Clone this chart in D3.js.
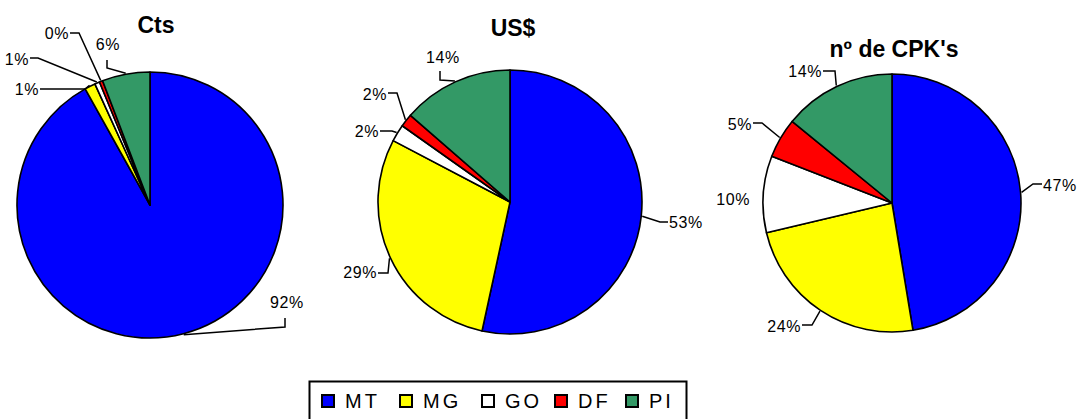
<!DOCTYPE html>
<html>
<head>
<meta charset="utf-8">
<script src="https://cdn.jsdelivr.net/npm/d3@7"></script>
<style>
  html, body { margin: 0; padding: 0; background: #fff; }
  svg { display: block; }
  text { font-family: "Liberation Sans", Arial, sans-serif; fill: #000; }
</style>
</head>
<body>
<svg id="chart" width="1080" height="419"></svg>
<script>
// Share of each state, per measure (percent)
const categories = ["MT", "MG", "GO", "DF", "PI"];
const ctsValues  = [91.9, 1.3, 0.6, 0.4, 5.8];
const usdValues  = [53.4, 29.3, 2.1, 1.6, 13.6];
const cpkValues  = [47.4, 23.9, 9.6, 5.0, 14.1];
const titles     = ["Cts", "US$", "nº de CPK's"];

// Slice colours, one per state
const colors = ["#0000FF", "#FFFF00", "#FFFFFF", "#FF0000", "#339966"];

// Pie placement
const pies = [
  { values: ctsValues, title: titles[0], cx: 150, cy: 205, r: 133, titleX: 156, titleY: 33 },
  { values: usdValues, title: titles[1], cx: 510, cy: 202, r: 132, titleX: 513, titleY: 36 },
  { values: cpkValues, title: titles[2], cx: 892, cy: 203, r: 129, titleX: 894, titleY: 57 }
];

// Label placement relative to each pie centre: leader elbow, leader end, text anchor
const labelLayout = [
  [
    { elbow: [135, 122],  end: [135, 113],  text: [137, 97],   anchor: "middle" },
    { elbow: [-65, -116], end: [-110, -116], text: [-111, -116], anchor: "end" },
    { elbow: [-112, -147], end: [-120, -147], text: [-121, -146], anchor: "end" },
    { elbow: [-71, -172], end: [-80, -172], text: [-81, -172], anchor: "end" },
    { elbow: [-43, -137], end: [-43, -145], text: [-42, -161], anchor: "middle" }
  ],
  [
    { elbow: [150, 20],   end: [158, 20],   text: [159, 20],   anchor: "start" },
    { elbow: [-122, 71],  end: [-132, 71],  text: [-133, 70],  anchor: "end" },
    { elbow: [-118, -71], end: [-130, -71], text: [-131, -71], anchor: "end" },
    { elbow: [-113, -109], end: [-122, -109], text: [-123, -108], anchor: "end" },
    { elbow: [-70, -122], end: [-70, -131], text: [-67, -145], anchor: "middle" }
  ],
  [
    { elbow: [141, -19],  end: [150, -19],  text: [151, -18],  anchor: "start" },
    { elbow: [-80, 122],  end: [-90, 122],  text: [-91, 123],  anchor: "end" },
    { elbow: null,        end: null,        text: [-142, -4],  anchor: "end" },
    { elbow: [-130, -80], end: [-139, -80], text: [-140, -79], anchor: "end" },
    { elbow: [-57, -132], end: [-69, -132], text: [-70, -132], anchor: "end" }
  ]
];

const svg = d3.select("#chart");
const color = d3.scaleOrdinal().domain(categories).range(colors);
const pieGen = d3.pie().sort(null).value(d => d.value);

pies.forEach((p, pi) => {
  const data = categories.map((c, i) => ({ cat: c, value: p.values[i] }));
  const arcs = pieGen(data);
  const arc = d3.arc().innerRadius(0).outerRadius(p.r);
  const edge = d3.arc().innerRadius(p.r + 1).outerRadius(p.r + 1);

  const g = svg.append("g").attr("transform", `translate(${p.cx},${p.cy})`);

  g.selectAll("path.slice")
    .data(arcs)
    .join("path")
    .attr("class", "slice")
    .attr("d", arc)
    .attr("fill", d => color(d.data.cat))
    .attr("stroke", "#000")
    .attr("stroke-width", 1.6)
    .attr("stroke-linejoin", "round");

  // leader lines from the slice edge to each label
  arcs.forEach((a, i) => {
    const L = labelLayout[pi][i];
    if (L.elbow) {
      const start = edge.centroid(a);
      g.append("path")
        .attr("d", d3.line()([start, L.elbow, L.end]))
        .attr("fill", "none")
        .attr("stroke", "#000")
        .attr("stroke-width", 1.5);
    }
    g.append("text")
      .attr("x", L.text[0])
      .attr("y", L.text[1])
      .attr("text-anchor", L.anchor)
      .attr("dominant-baseline", "central")
      .attr("font-size", 16)
      .attr("letter-spacing", 0.6)
      .text(Math.round(a.data.value) + "%");
  });

  svg.append("text")
    .attr("x", p.titleX)
    .attr("y", p.titleY)
    .attr("text-anchor", "middle")
    .attr("font-size", 23)
    .attr("font-weight", "bold")
    .text(p.title);
});

// Legend
const legendItems = [322, 400, 482, 555, 626];
const legend = svg.append("g");
legend.append("rect")
  .attr("x", 309.5).attr("y", 381.5)
  .attr("width", 377).attr("height", 50)
  .attr("fill", "#fff").attr("stroke", "#000").attr("stroke-width", 2);

categories.forEach((c, i) => {
  const x = legendItems[i];
  legend.append("rect")
    .attr("x", x).attr("y", 395)
    .attr("width", 12).attr("height", 12)
    .attr("fill", color(c))
    .attr("stroke", "#000").attr("stroke-width", 2);
  legend.append("text")
    .attr("x", x + 23).attr("y", 401)
    .attr("dominant-baseline", "central")
    .attr("font-size", 20)
    .attr("letter-spacing", 3)
    .text(c);
});
</script>
</body>
</html>
